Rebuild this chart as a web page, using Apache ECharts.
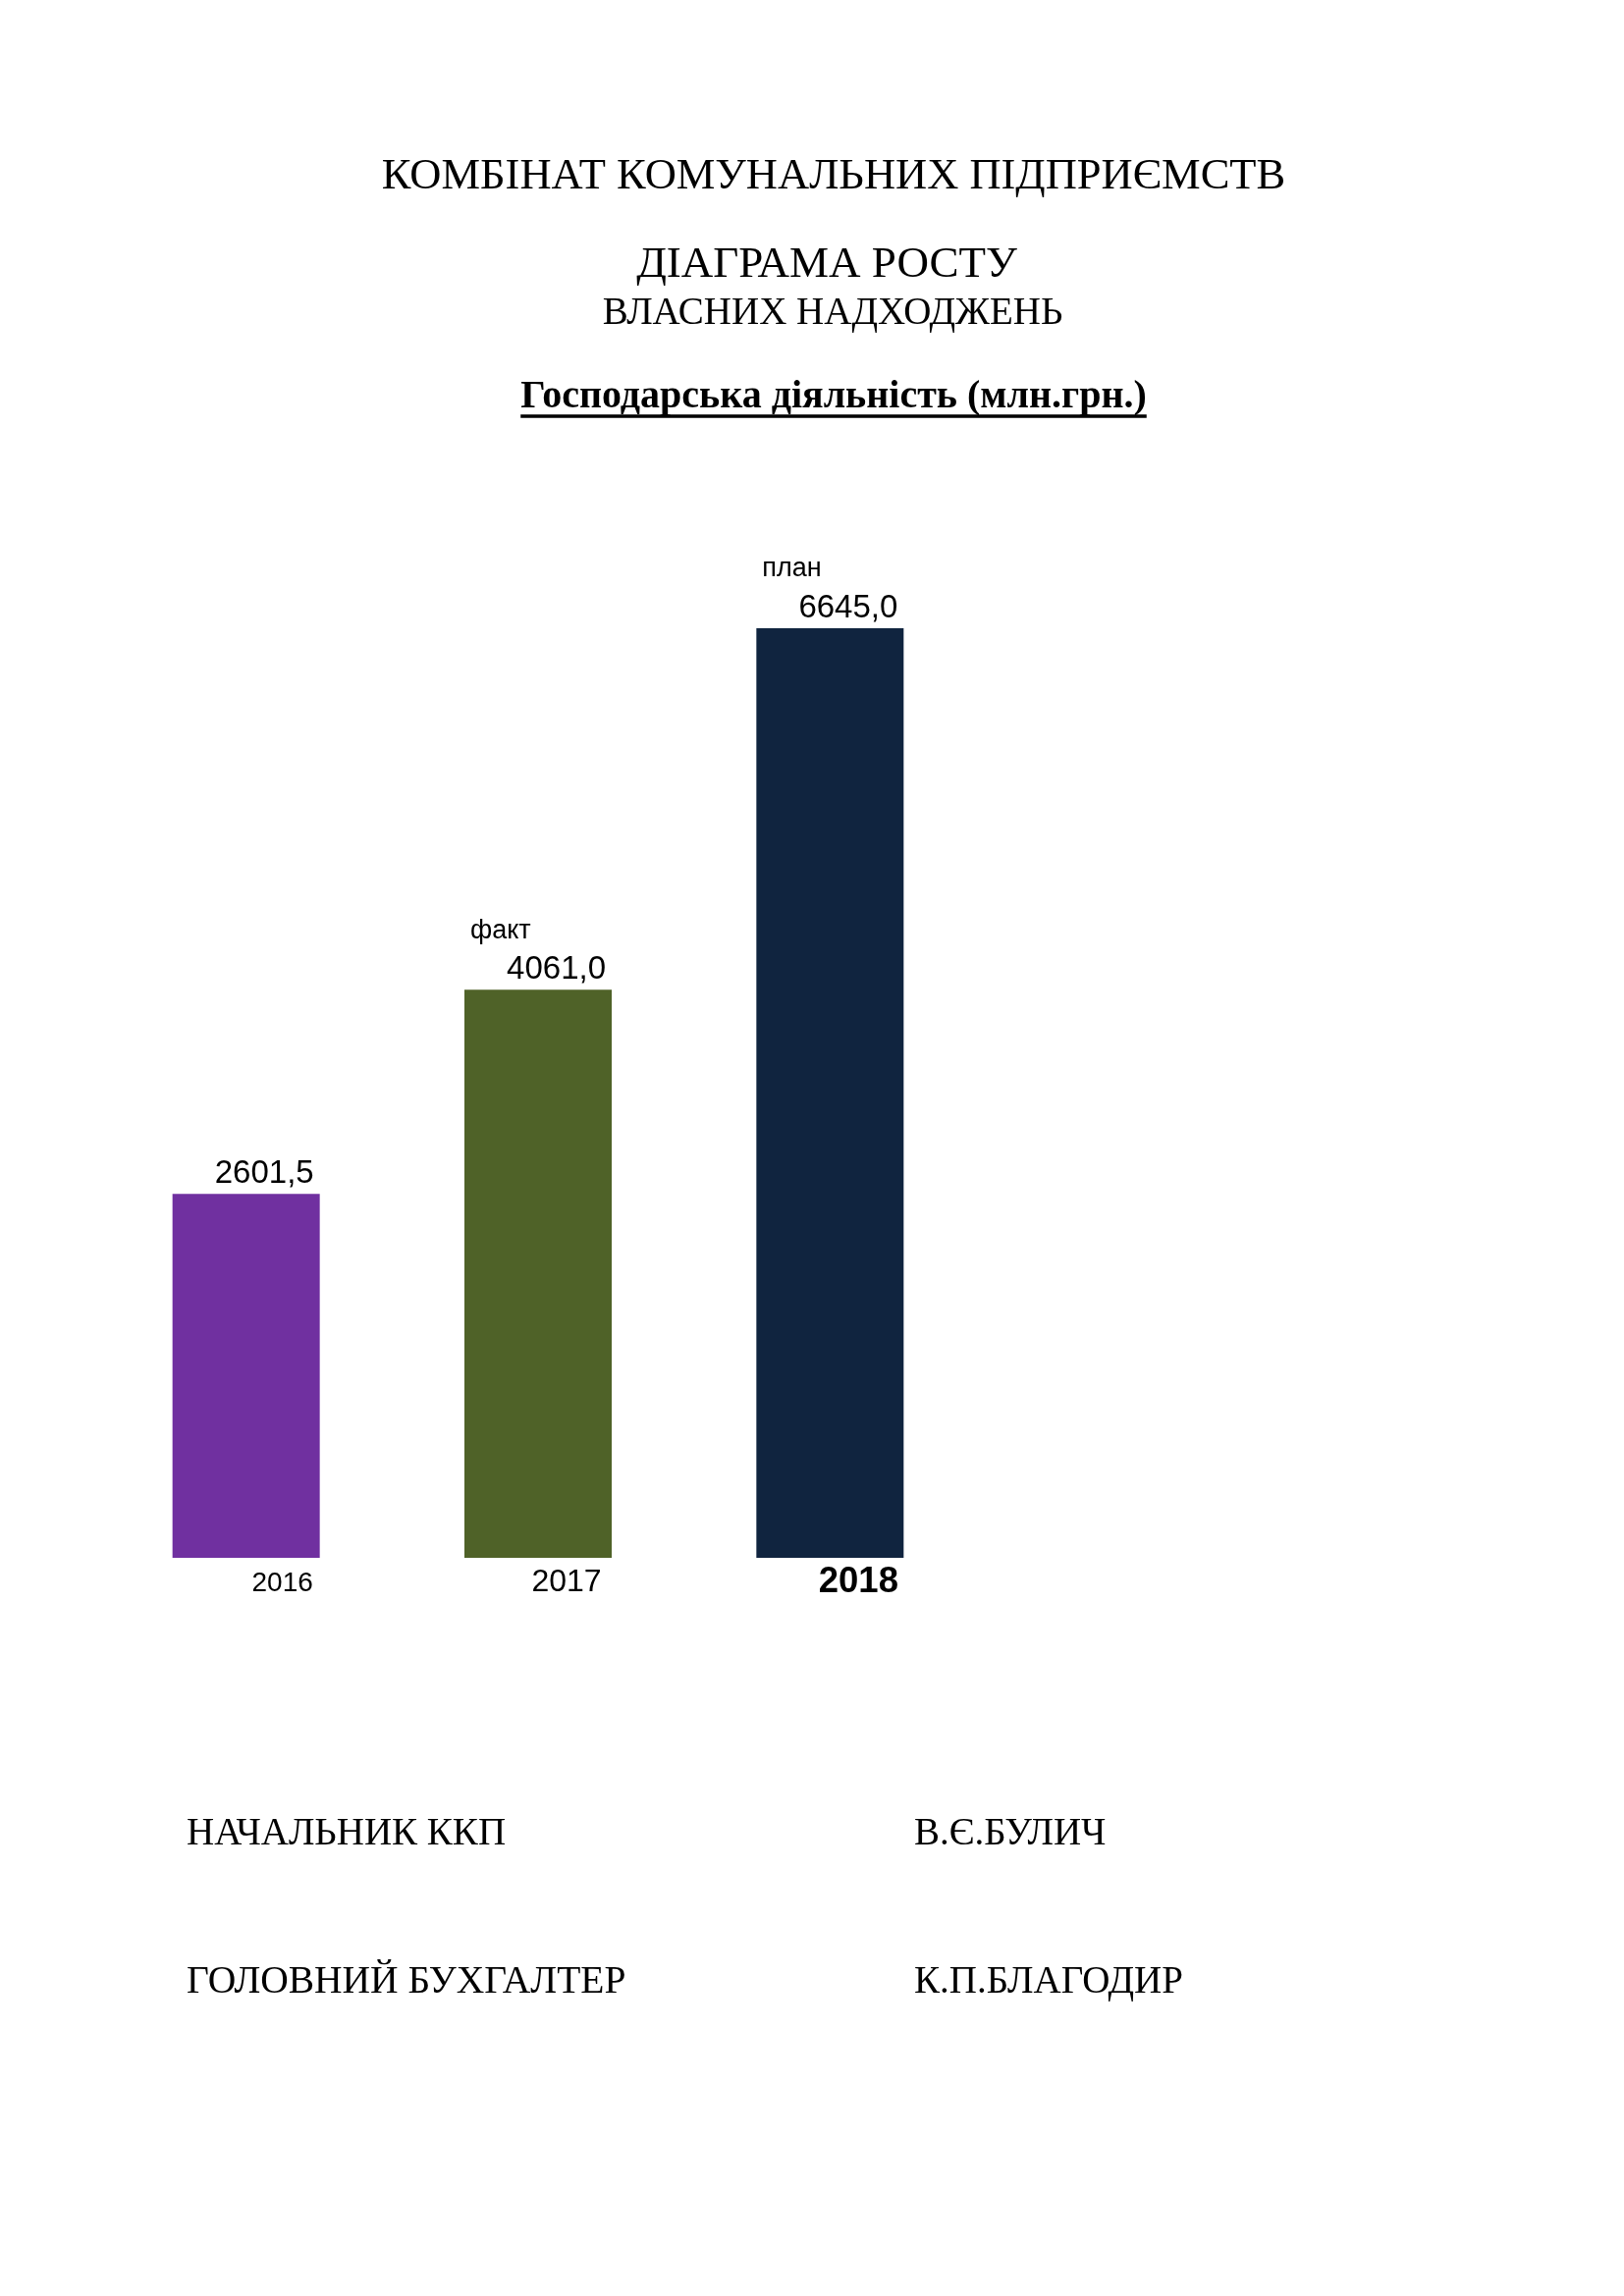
<!DOCTYPE html>
<html lang="uk">
<head>
<meta charset="utf-8">
<title>Діаграма росту власних надходжень</title>
<script src="https://cdn.jsdelivr.net/npm/echarts/dist/echarts.min.js"></script>
<style>
  html, body { margin: 0; padding: 0; background: #ffffff; }
  #chart { width: 1654px; height: 2339px; }
</style>
</head>
<body>
<div id="chart"></div>
<script>
// data
var years = ['2016', '2017', '2018'];
var values = [2601.5, 4061.0, 6645.0];
var notes = ['', 'факт', 'план'];
var barColors = ['#7030A0', '#4F6228', '#10243F'];

var titleLines = ['КОМБІНАТ КОМУНАЛЬНИХ ПІДПРИЄМСТВ', 'ДІАГРАМА РОСТУ', 'ВЛАСНИХ НАДХОДЖЕНЬ'];
var subtitle = 'Господарська діяльність (млн.грн.)';
var signPosts = ['НАЧАЛЬНИК ККП', 'ГОЛОВНИЙ БУХГАЛТЕР'];
var signNames = ['В.Є.БУЛИЧ', 'К.П.БЛАГОДИР'];

var SERIF = '"Liberation Serif", "DejaVu Serif", serif';
var SANS = '"Liberation Sans", Arial, sans-serif';

function fmt(v) {
    return v.toFixed(1).replace('.', ',');
}

function textWidth(text, font) {
    var ctx = document.createElement('canvas').getContext('2d');
    ctx.font = font;
    return ctx.measureText(text).width;
}

// text placed by its baseline (zrender draws with middle baseline)
function serifText(text, x, baseline, size, align, weight) {
    return {
        type: 'text',
        x: x,
        y: baseline - size * 0.3375,
        silent: true,
        style: {
            text: text,
            fill: '#000000',
            font: (weight || 'normal') + ' ' + size + 'px ' + SERIF,
            align: align,
            verticalAlign: 'middle'
        }
    };
}

var subFont = 'bold 40px ' + SERIF;
var subW = textWidth(subtitle, subFont);
var subCx = 849;

var chart = echarts.init(document.getElementById('chart'), null, { renderer: 'canvas' });

var option = {
    backgroundColor: '#ffffff',
    animation: false,
    graphic: [
        serifText(titleLines[0], 849, 195, 44.5, 'center'),
        serifText(titleLines[1], 842, 285, 45, 'center'),
        serifText(titleLines[2], 848, 333, 39, 'center'),
        serifText(subtitle, subCx, 418, 40, 'center', 'bold'),
        {
            type: 'line',
            silent: true,
            shape: { x1: subCx - subW / 2, y1: 424, x2: subCx + subW / 2, y2: 424 },
            style: { stroke: '#000000', lineWidth: 3.5 }
        },
        serifText(signPosts[0], 190, 1882, 39, 'left'),
        serifText(signNames[0], 931, 1882, 39, 'left'),
        serifText(signPosts[1], 190, 2033, 39.5, 'left'),
        serifText(signNames[1], 931, 2033, 39, 'left')
    ],
    grid: {
        left: 102,
        right: 660,
        top: 640,
        bottom: 752,
        containLabel: false
    },
    xAxis: {
        type: 'category',
        data: years,
        axisLine: { show: false },
        axisTick: { show: false },
        splitLine: { show: false },
        axisLabel: {
            margin: 5,
            color: '#000000',
            fontFamily: SANS,
            formatter: function (value, index) {
                return '{y' + index + '|' + value + '}';
            },
            rich: {
                y0: { fontSize: 28, lineHeight: 40, fontFamily: SANS, color: '#000', padding: [3, 0, 0, 74] },
                y1: { fontSize: 32, lineHeight: 40, fontFamily: SANS, color: '#000', padding: [1, 0, 0, 58] },
                y2: { fontSize: 36.5, lineHeight: 40, fontFamily: SANS, fontWeight: 'bold', color: '#000', padding: [0, 0, 0, 58] }
            }
        }
    },
    yAxis: {
        type: 'value',
        min: 0,
        max: function (v) { return v.max; },
        show: false,
        splitLine: { show: false }
    },
    series: [{
        type: 'bar',
        barWidth: 150,
        data: values.map(function (v, i) {
            return { value: v, itemStyle: { color: barColors[i] } };
        }),
        label: {
            show: true,
            position: 'top',
            distance: 0,
            width: 138,
            formatter: function (p) {
                var s = '{val|' + fmt(p.value) + '}';
                if (notes[p.dataIndex]) {
                    s = '{note|' + notes[p.dataIndex] + '}\n' + s;
                }
                return s;
            },
            rich: {
                note: { fontSize: 27, lineHeight: 40, fontFamily: SANS, color: '#000', align: 'left', width: 138 },
                val: { fontSize: 33, lineHeight: 40, fontFamily: SANS, color: '#000', align: 'right', width: 138 }
            }
        }
    }]
};

chart.setOption(option);

window.addEventListener('resize', function () {
    chart.resize();
});
</script>
</body>
</html>
